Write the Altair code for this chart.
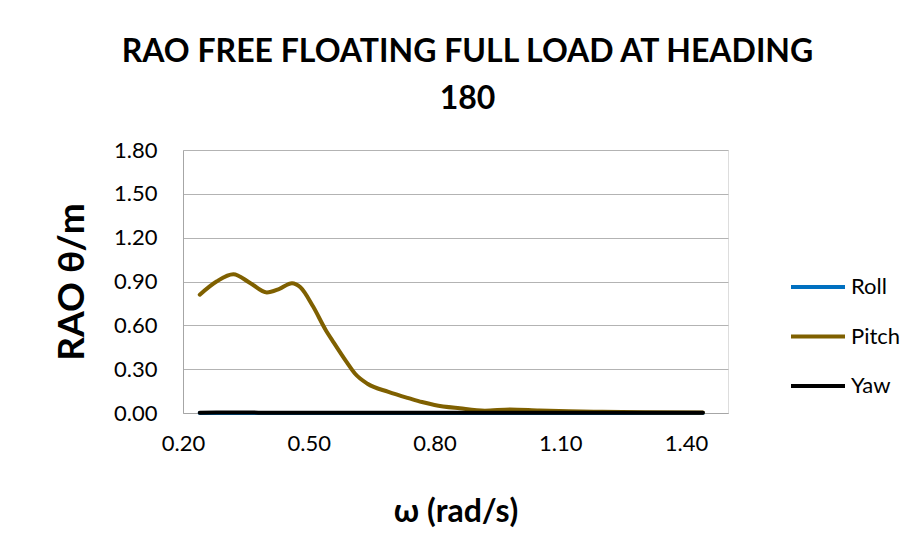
import altair as alt
import pandas as pd

omega = [0.24, 0.28, 0.32, 0.36, 0.40, 0.43, 0.46, 0.48, 0.51, 0.54, 0.56, 0.59,
         0.61, 0.64, 0.69, 0.74, 0.77, 0.80, 0.86, 0.92, 0.98, 1.05, 1.12, 1.20,
         1.30, 1.44]
roll = [0.000, 0.000, 0.000, 0.000, 0.000, 0.000, 0.000, 0.000, 0.000, 0.000,
        0.000, 0.000, 0.000, 0.000, 0.000, 0.000, 0.000, 0.000, 0.000, 0.000,
        0.000, 0.000, 0.000, 0.000, 0.000, 0.000]
pitch = [0.81, 0.90, 0.95, 0.89, 0.825, 0.85, 0.888, 0.86, 0.73, 0.57, 0.48, 0.35,
         0.27, 0.20, 0.145, 0.10, 0.075, 0.055, 0.032, 0.016, 0.024, 0.017, 0.012,
         0.008, 0.005, 0.003]
yaw = [0.002, 0.003, 0.003, 0.003, 0.002, 0.002, 0.002, 0.002, 0.002, 0.002,
       0.001, 0.001, 0.001, 0.001, 0.001, 0.001, 0.001, 0.001, 0.001, 0.001,
       0.001, 0.001, 0.001, 0.001, 0.001, 0.001]

series_names = ["Roll", "Pitch", "Yaw"]
series_colors = ["#0070C0", "#7F6000", "#000000"]
x_ticks = [0.2, 0.5, 0.8, 1.1, 1.4]
y_ticks = [0.0, 0.3, 0.6, 0.9, 1.2, 1.5, 1.8]

rows = []
for name, vals in zip(series_names, [roll, pitch, yaw]):
    for w, v in zip(omega, vals):
        rows.append({"omega": w, "rao": v, "series": name})
df = pd.DataFrame(rows)

FONT = "Lato"

chart = alt.Chart(df).mark_line(interpolate="monotone", strokeWidth=4, strokeCap="round").encode(
    x=alt.X("omega:Q",
            scale=alt.Scale(domain=[0.2, 1.5], nice=False, zero=False),
            axis=alt.Axis(values=x_ticks, format=".2f", title="ω (rad/s)",
                          grid=False, ticks=False, domainColor="#a6a6a6",
                          labelFont=FONT, labelFontSize=22, labelColor="black",
                          labelPadding=20, titleFont=FONT, titleFontSize=32,
                          titleFontWeight="bold", titleColor="black",
                          titlePadding=42, labelFlush=False)),
    y=alt.Y("rao:Q",
            scale=alt.Scale(domain=[0, 1.8], nice=False),
            axis=alt.Axis(values=y_ticks, format=".2f", title="RAO θ/m",
                          grid=True, gridColor="#b3b3b3", ticks=False,
                          domainColor="#a6a6a6",
                          labelFont=FONT, labelFontSize=22, labelColor="black",
                          labelPadding=26, titleFont=FONT, titleFontSize=37,
                          titleFontWeight="bold", titleColor="black",
                          titlePadding=22)),
    color=alt.Color("series:N",
                    scale=alt.Scale(domain=series_names, range=series_colors),
                    legend=alt.Legend(title=None, orient="none", legendX=606,
                                      legendY=108, symbolType="stroke",
                                      symbolSize=2916, symbolStrokeWidth=4,
                                      labelFont=FONT, labelFontSize=22,
                                      labelColor="black", labelOffset=4,
                                      rowPadding=9.5, padding=0)),
).properties(
    width=545,
    height=263,
    autosize=alt.AutoSizeParams(type="none"),
    padding={"left": 175, "top": 142, "right": 183, "bottom": 125},
    title=alt.TitleParams(text=["RAO FREE FLOATING FULL LOAD AT HEADING", "180"],
                          font=FONT, fontSize=32, fontWeight="bold", color="black",
                          anchor="middle", lineHeight=47, offset=23, dx=12),
).configure_view(stroke=None).configure(background="white")

chart.save("out.html", embed_options={"renderer": "svg", "actions": False})
